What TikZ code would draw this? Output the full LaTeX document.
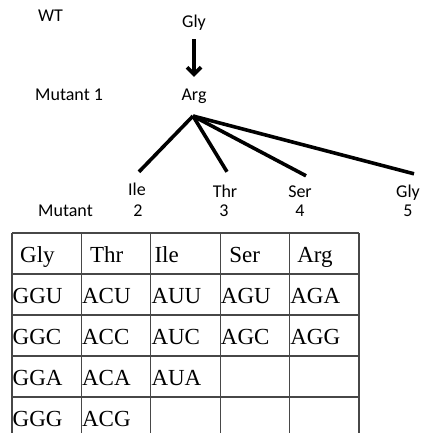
\documentclass[tikz,border=0pt]{standalone}
\usepackage{fontspec}
\setmainfont{Liberation Serif}
\newfontfamily\calfont{Carlito}
\usetikzlibrary{arrows.meta}

\begin{document}
\begin{tikzpicture}[x=1pt, y=-1pt,
  lbl/.style={font=\calfont\fontsize{18}{22}\selectfont, inner sep=0pt,
    text height=13pt, text depth=4pt, anchor=base},
  branch/.style={line width=3.6pt},
  cell/.style={font=\fontsize{23}{27}\selectfont, inner sep=0pt, anchor=base west},
  tabline/.style={line width=1.3pt, black!72}]
  \useasboundingbox (0,0) rectangle (421,433);

  % Wild type and first mutant
  \node[lbl, anchor=base west] (wt) at (38,22) {WT};
  \node[lbl] (gly) at (194,28) {Gly};
  \node[lbl, anchor=base west] (mut1) at (35,100) {Mutant 1};
  \node[lbl] (arg) at (194,100) {Arg};
  \draw[branch, -{Straight Barb[length=7pt,width=14pt]},
    shorten <=7pt, shorten >=10pt] (gly) -- (arg);

  % Split point below Arg
  \coordinate (split) at (193,116);

  % Second-round mutants
  \foreach \n/\x/\y/\aa in {ile/137/195/Ile, thr/225/197/Thr, ser/300/197/Ser, gly5/408/197/Gly}
    \node[lbl] (\n) at (\x,\y) {\aa};
  \foreach \n/\dx/\dy in {ile/2/10, thr/2/12, ser/6/8, gly5/6/10}
    \draw[branch] (split) -- ([xshift=\dx pt, yshift=\dy pt]\n.north);

  % Mutant numbers
  \node[lbl, anchor=base west] (mut) at (38,216) {Mutant};
  \foreach \n/\x/\num in {two/138/2, three/224/3, four/300/4, five/408/5}
    \node[lbl] (\n) at (\x,216) {\num};

  % Codon table grid
  \foreach \k in {0,...,4}
    \draw[tabline] (12,233+41*\k) -- (359,233+41*\k);
  \foreach \c in {0,...,5}
    \draw[tabline] (12+69.4*\c,233) -- (12+69.4*\c,433);

  % Header row
  \foreach \aa/\dx [count=\c] in {Gly/8, Thr/8.5, Ile/3.5, Ser/9, Arg/7.5}
    \node[cell] (head-\c) at (12+69.4*\c-69.4+\dx, 262) {\aa};

  % Codons
  \foreach \r/\codons in {1/{GGU,ACU,AUU,AGU,AGA}, 2/{GGC,ACC,AUC,AGC,AGG},
      3/{GGA,ACA,AUA}, 4/{GGG,ACG}}
    \foreach \cod [count=\c] in \codons
      \node[cell] (cod-\r-\c) at (12.5+69.4*\c-69.4, 262+41*\r) {\cod};
\end{tikzpicture}
\end{document}
